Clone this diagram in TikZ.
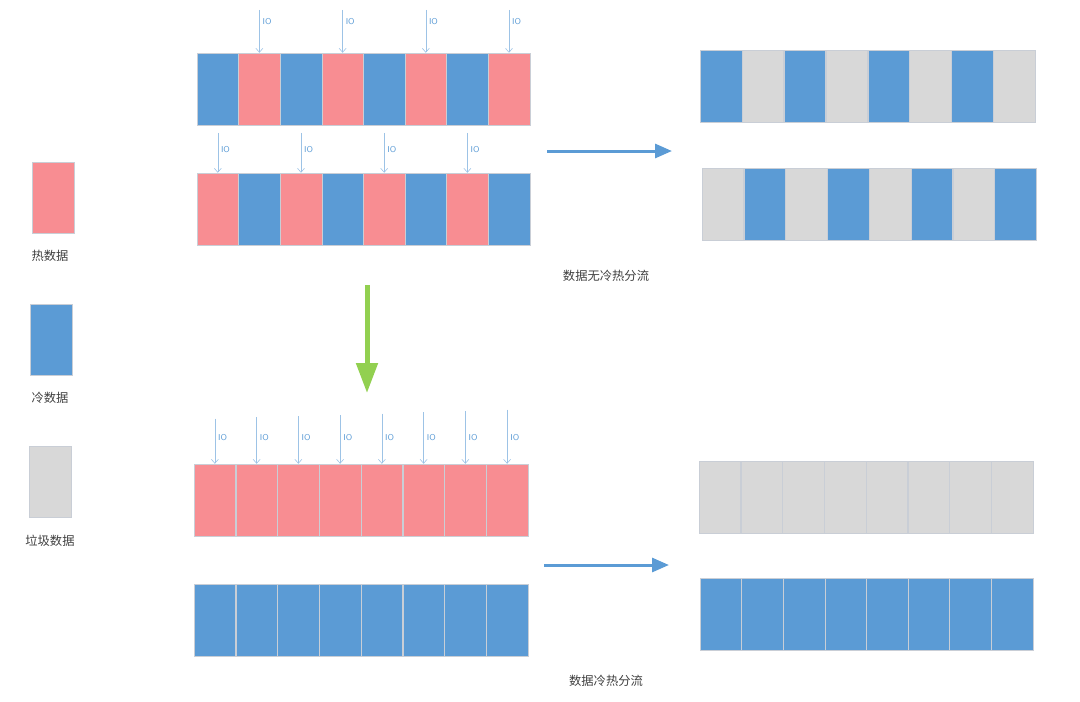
\documentclass[tikz,border=0pt]{standalone}
\usepackage{fontspec}
\usepackage{xcolor}
\usetikzlibrary{arrows.meta,positioning,calc}
\newfontfamily\cjk{Noto Sans CJK SC}
\definecolor{HotPink}{HTML}{F88D92}
\definecolor{ColdBlue}{HTML}{5B9BD5}
\definecolor{JunkGray}{HTML}{D8D8D8}
\definecolor{IOBlue}{HTML}{9DC3E6}
\definecolor{FlowGreen}{HTML}{92D050}
\definecolor{EdgeGray}{HTML}{C9CED6}
\tikzset{
  cell/.style={draw=EdgeGray, line width=0.5pt, minimum width=41.6pt, minimum height=72pt, inner sep=0pt},
  hot/.style={cell, fill=HotPink},
  cold/.style={cell, fill=ColdBlue},
  junk/.style={cell, fill=JunkGray},
  ioarrow/.style={-{Straight Barb[length=4pt,width=7pt]}, line width=0.6pt, draw=IOBlue},
  iolabel/.style={font=\sffamily\fontsize{8.5}{9}\selectfont, text=ColdBlue, inner sep=1pt, anchor=west},
  flow/.style={-{Triangle[length=17pt,width=14pt]}, line width=3pt, draw=ColdBlue},
  caption/.style={font=\cjk\fontsize{12.3}{14}\selectfont, text=black!75, inner sep=1pt}
}

\begin{document}
\begin{tikzpicture}[x=1pt, y=-1pt]
\useasboundingbox (0,0) rectangle (1080,702);

% mixed rows, before separation
\foreach \i in {1,...,8}{
  \ifodd\i
    \node[cold] (mixA\i) at ({197+41.6*(\i-0.5)}, 89) {};
    \node[hot] (mixB\i) at ({197+41.6*(\i-0.5)}, 209) {};
  \else
    \node[hot] (mixA\i) at ({197+41.6*(\i-0.5)}, 89) {};
    \node[cold] (mixB\i) at ({197+41.6*(\i-0.5)}, 209) {};
  \fi
}
\foreach \i in {2,4,6,8}{
  \coordinate (ioA\i) at ($(mixA\i.north)+(0,-43)$);
  \draw[ioarrow] (ioA\i) -- (mixA\i.north);
  \node[iolabel] (ioTextA\i) at ($(ioA\i)+(2,12)$) {IO};
}
\foreach \i in {1,3,5,7}{
  \coordinate (ioB\i) at ($(mixB\i.north)+(0,-40)$);
  \draw[ioarrow] (ioB\i) -- (mixB\i.north);
  \node[iolabel] (ioTextB\i) at ($(ioB\i)+(2,17)$) {IO};
}

% mixed rows after gc
\foreach \i in {1,...,8}{
  \ifodd\i
    \node[cold] (gcA\i) at ({700+41.9*(\i-0.5)}, 86) {};
    \node[junk] (gcB\i) at ({702+41.8*(\i-0.5)}, 204) {};
  \else
    \node[junk] (gcA\i) at ({700+41.9*(\i-0.5)}, 86) {};
    \node[cold] (gcB\i) at ({702+41.8*(\i-0.5)}, 204) {};
  \fi
}
\coordinate (flowA) at (547,151);
\coordinate (flowAend) at (672,151);
\draw[flow] (flowA) -- (flowAend);
\node[caption] (capA) at (606,276) {数据无冷热分流};

% separation
\coordinate (sepTop) at (367,285);
\coordinate (sepEnd) at (367,393);
\draw[-{Triangle[length=30pt,width=21pt]}, line width=5pt, draw=FlowGreen] (sepTop) -- (sepEnd);

% separated rows
\foreach \i [evaluate=\i as \lift using {420-1.3*\i}] in {1,...,8}{
  \node[hot] (sepA\i) at ({194+41.75*(\i-0.5)}, 500) {};
  \node[cold] (sepB\i) at ({194+41.75*(\i-0.5)}, 620) {};
  \coordinate (ioC\i) at ({194+41.75*(\i-0.5)}, \lift);
  \draw[ioarrow] (ioC\i) -- (sepA\i.north);
  \node[iolabel] (ioTextC\i) at ($(sepA\i.north)+(2,-26)$) {IO};
}
\foreach \i in {1,...,8}{
  \node[junk] (doneA\i) at ({699+41.75*(\i-0.5)}, 497) {};
  \node[cold] (doneB\i) at ({700+41.6*(\i-0.5)}, 614) {};
}
\coordinate (flowB) at (544,565);
\coordinate (flowBend) at (669,565);
\draw[flow] (flowB) -- (flowBend);
\node[caption] (capB) at (606,681) {数据冷热分流};

% legend
\node[hot, minimum width=42pt, minimum height=71pt] (keyHot) at (53,197.5) {};
\node[caption] (keyHotText) at (50,256) {热数据};
\node[cold, minimum width=42pt, minimum height=71pt] (keyCold) at (51,339.5) {};
\node[caption] (keyColdText) at (50,398) {冷数据};
\node[junk, minimum width=42pt, minimum height=71pt] (keyJunk) at (50,481.5) {};
\node[caption] (keyJunkText) at (50,541) {垃圾数据};
\end{tikzpicture}
\end{document}
